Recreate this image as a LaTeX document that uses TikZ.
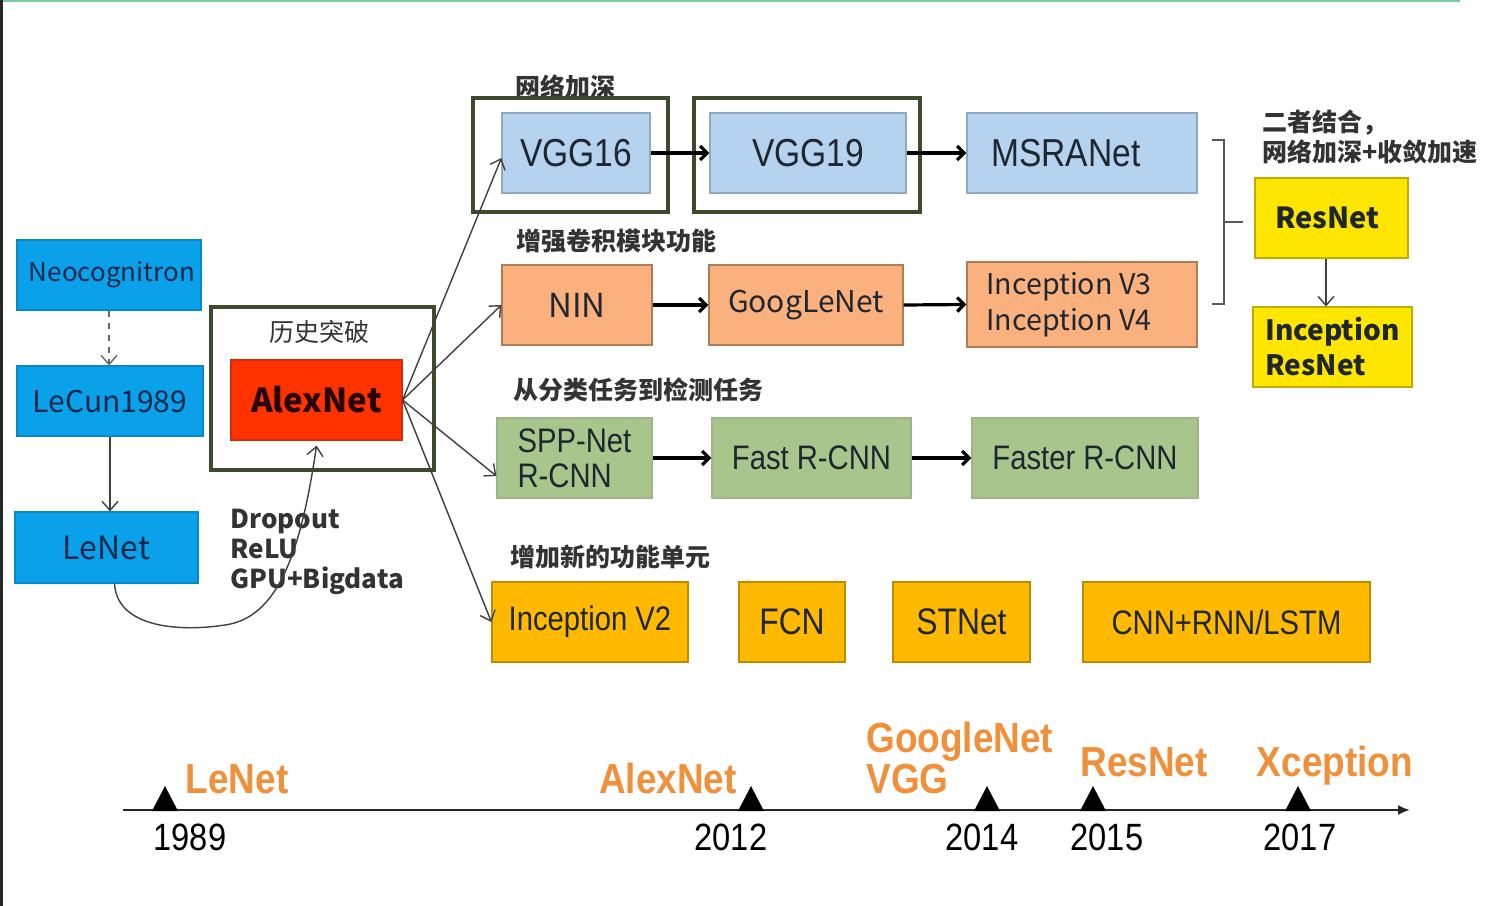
\documentclass[tikz,border=0pt]{standalone}
\usepackage{fontspec}
\setmainfont{Liberation Sans}
\newfontfamily\arialc[FakeStretch=0.86]{Liberation Sans}
\newfontfamily\arialb[FakeStretch=0.88]{Liberation Sans}
\newfontfamily\cjk{Noto Sans CJK SC}
\usetikzlibrary{arrows.meta}
\definecolor{bblue}{HTML}{0AA0EA}
\definecolor{lblue}{HTML}{B5D2EE}
\definecolor{lorange}{HTML}{FAB17D}
\definecolor{lgreen}{HTML}{A8C68C}
\definecolor{yel}{HTML}{FFE600}
\definecolor{amber}{HTML}{FFB900}
\definecolor{ared}{HTML}{FF3300}
\definecolor{frameg}{HTML}{3C4A2E}
\definecolor{tlorange}{HTML}{F0903A}
\definecolor{txt}{HTML}{1E2630}
\definecolor{navy}{HTML}{10284A}
\definecolor{topgreen}{HTML}{7CC8A0}
\tikzset{
  box/.style={rectangle, inner sep=0pt, line width=0.6pt, text=txt, align=center},
  bluebox/.style={box, fill=bblue, draw=bblue!85!black, text=navy},
  lbbox/.style={box, fill=lblue, draw=lblue!80!black, font=\arialc\fontsize{19.5}{21}\selectfont},
  orbox/.style={box, fill=lorange, draw=lorange!70!black, font=\cjk\fontsize{15}{18}\selectfont},
  grbox/.style={box, fill=lgreen, draw=lgreen!75!gray, font=\arialc\fontsize{17}{17.5}\selectfont},
  yebox/.style={box, fill=yel, draw=yel!75!black, font=\cjk\bfseries\fontsize{14.5}{17.5}\selectfont},
  ambox/.style={box, fill=amber, draw=amber!75!black, font=\arialc\fontsize{17}{19}\selectfont},
  frame/.style={rectangle, draw=frameg, line width=1.8pt, inner sep=0pt},
  cjklabel/.style={font=\cjk\bfseries\fontsize{12.5}{14}\selectfont, text=black!80, inner sep=0pt},
  thinarrow/.style={draw=black!75, line width=0.7pt, -{Straight Barb[length=4.5pt,width=8pt]}},
  thickarrow/.style={draw=black, line width=1.6pt, -{Straight Barb[length=3.5pt,width=7pt]}},
  tllabel/.style={font=\arialb\bfseries\fontsize{21}{23}\selectfont, text=tlorange, inner sep=0pt, anchor=base},
  tlyear/.style={font=\arialc\fontsize{19}{21}\selectfont, text=black, inner sep=0pt, anchor=base},
}
\begin{document}
\begin{tikzpicture}[x=0.5pt,y=-0.5pt]
\useasboundingbox (0,0) rectangle (1496,906);
\fill[white] (0,0) rectangle (1496,906);
% page edges
\draw[topgreen, line width=1pt] (0,1) -- (1460,1);
\draw[black!85, line width=1.5pt] (1,0) -- (1,906);

% left column
\node[bluebox, minimum width=92pt, minimum height=35pt, font=\cjk\fontsize{13}{16}\selectfont] (neo) at (109,275) {\hspace*{3pt}Neocognitron};
\node[bluebox, minimum width=93pt, minimum height=35pt, font=\cjk\fontsize{15}{17}\selectfont] (lecun) at (110,401) {LeCun1989};
\node[bluebox, minimum width=91.5pt, minimum height=35.5pt, font=\cjk\fontsize{16}{18}\selectfont] (lenet) at (106.5,547.5) {LeNet};
\draw[thinarrow, dashed, draw=black!60] (neo.south) -- (neo.south |- lecun.north);
\draw[thinarrow] (lecun.south) -- (lecun.south |- lenet.north);

% AlexNet
\node[frame, minimum width=111.5pt, minimum height=81.5pt] (alexframe) at (322.5,388.5) {};
\node[cjklabel, font=\cjk\fontsize{12.5}{14}\selectfont] (lbhist) at (319,332) {历史突破};
\node[box, fill=ared, draw=ared!85!black, minimum width=85.5pt, minimum height=40pt, font=\cjk\bfseries\fontsize{16.5}{19}\selectfont, text=black!85!red] (alex) at (316.5,400) {AlexNet};
\node[anchor=west, align=left, inner sep=0pt, text=black!80, font=\cjk\bfseries\fontsize{13}{15}\selectfont] (tricks) at (230,552) {Dropout\\ReLU\\GPU+Bigdata};
\draw[thinarrow] ([xshift=4pt]lenet.south) .. controls (117,628) and (180,632) .. (225,625) .. controls (275,618) and (300,560) .. ([yshift=-2.5pt]alex.south);

% row 1
\node[cjklabel] (lbdeep) at (565,87) {网络加深};
\node[frame, minimum width=97.5pt, minimum height=57pt] (vgg16f) at (570.5,155) {};
\node[lbbox, minimum width=74pt, minimum height=40pt] (vgg16) at (576,153) {VGG16};
\node[frame, minimum width=113pt, minimum height=57pt] (vgg19f) at (807,155) {};
\node[lbbox, minimum width=98pt, minimum height=40pt] (vgg19) at (808,153) {VGG19};
\node[lbbox, minimum width=115pt, minimum height=40pt] (msra) at (1082,153) {\hspace*{-16pt}MSRANet};
\draw[thickarrow] (vgg16.east) -- (vgg19.west);
\draw[thickarrow] (vgg19.east) -- (msra.west);

% row 2
\node[cjklabel] (lbconv) at (616,241) {增强卷积模块功能};
\node[orbox, minimum width=75pt, minimum height=40pt, font=\cjk\fontsize{16.5}{18}\selectfont] (nin) at (577,305) {NIN};
\node[orbox, minimum width=97pt, minimum height=40pt] (goog) at (806,305) {GoogLeNet};
\node[orbox, minimum width=115pt, minimum height=42.5pt, align=left, font=\cjk\fontsize{14.3}{18}\selectfont] (incv3) at (1082,304.5) {Inception V3\hspace*{13pt}\\Inception V4};
\draw[thickarrow] (nin.east) -- (goog.west);
\draw[thickarrow] (goog.east) -- (incv3.west);

% row 3
\node[cjklabel] (lbdet) at (638,390) {从分类任务到检测任务};
\node[grbox, minimum width=77.5pt, minimum height=40pt, align=left] (spp) at (574.5,458) {SPP-Net\\R-CNN};
\node[grbox, minimum width=99.5pt, minimum height=40pt] (fast) at (811.5,458) {Fast R-CNN};
\node[grbox, minimum width=113pt, minimum height=40pt] (faster) at (1085,458) {Faster R-CNN};
\draw[thickarrow] (spp.east) -- (fast.west);
\draw[thickarrow] (fast.east) -- (faster.west);

% row 4
\node[cjklabel] (lbnew) at (610,557) {增加新的功能单元};
\node[ambox, minimum width=98pt, minimum height=40pt] (incv2) at (590,622) {Inception V2};
\node[ambox, minimum width=53pt, minimum height=40pt, font=\arialc\fontsize{18.5}{20}\selectfont] (fcn) at (792,622) {FCN};
\node[ambox, minimum width=68.5pt, minimum height=40pt, font=\arialc\fontsize{18.5}{20}\selectfont] (stnet) at (961.5,622) {STNet};
\node[ambox, minimum width=143.5pt, minimum height=40pt] (cnnrnn) at (1226.5,622) {CNN+RNN/LSTM};

% AlexNet fan-out
\draw[thinarrow] (alex.east) -- ([yshift=-2.5pt]vgg16.west);
\draw[thinarrow] (alex.east) -- (nin.west);
\draw[thinarrow] (alex.east) -- ([yshift=-9pt]spp.west);
\draw[thinarrow] (alex.east) -- (incv2.west);

% right column
\node[anchor=west, align=left, inner sep=0pt, text=black!80, font=\cjk\bfseries\fontsize{12.5}{15}\selectfont] (lbcomb) at (1262,137) {二者结合，\\网络加深+收敛加速};
\node[yebox, minimum width=76.5pt, minimum height=40pt, font=\cjk\bfseries\fontsize{14.5}{17}\selectfont] (resnet) at (1331.5,218) {\hspace*{-4pt}ResNet};
\node[yebox, minimum width=79.5pt, minimum height=40pt, align=left, font=\cjk\bfseries\fontsize{14}{17.5}\selectfont] (incres) at (1332.5,347) {Inception\\ResNet};
\draw[thinarrow] (resnet.south -| 1326,0) -- (incres.north -| 1326,0);
\coordinate (brtop) at (1212,140);
\coordinate (brbot) at (1212,304);
\coordinate (brmid) at (1243,222);
\draw[black!65, line width=0.8pt] (brtop) -- (1224,140) -- (1224,304) -- (brbot);
\draw[black!65, line width=0.8pt] (1224,222) -- (brmid);

% timeline
\coordinate (tlstart) at (123,810);
\coordinate (tlend) at (1410,810);
\draw[black!85, line width=1pt, -{Latex[length=6pt,width=5pt]}] (tlstart) -- (tlend);
\foreach \x in {165,751,987,1093,1298}{
  \fill[black] (\x-13,811) -- (\x+13,811) -- (\x,786) -- cycle;
}
\node[tlyear] (y1989) at (190,850) {1989};
\node[tlyear] (y2012) at (731,850) {2012};
\node[tlyear] (y2014) at (982,850) {2014};
\node[tlyear] (y2015) at (1107,850) {2015};
\node[tlyear] (y2017) at (1300,850) {2017};
\node[tllabel] (tlLeNet) at (237,793) {LeNet};
\node[tllabel] (tlAlex) at (668,793) {AlexNet};
\node[tllabel, anchor=base west] (tlVGG) at (866,793) {VGG};
\node[tllabel, anchor=base west] (tlGoog) at (866,752) {GoogleNet};
\node[tllabel] (tlRes) at (1144,776) {ResNet};
\node[tllabel] (tlXcep) at (1335,776) {Xception};
\end{tikzpicture}
\end{document}
